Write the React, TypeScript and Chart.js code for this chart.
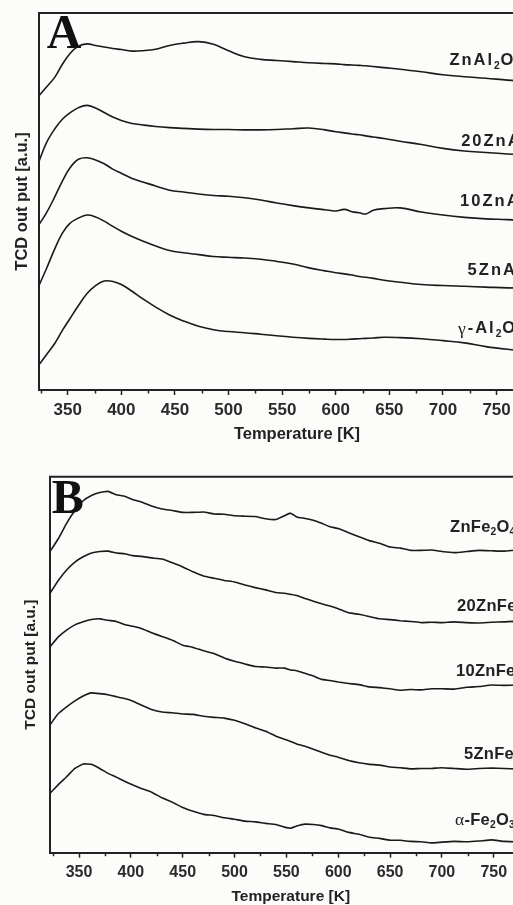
import { useEffect, useRef } from "react";
import { Chart, registerables } from "chart.js";

Chart.register(...registerables);

// ---- Panel A: Zn / γ-Al2O3 series (temperature in K, TCD signal in a.u., stacked) ----
const tempsA = [323, 330, 338, 345, 352, 360, 368, 376, 384, 392, 400, 410, 420, 432, 445, 458, 472, 486, 500, 515, 530, 545, 560, 575, 590, 600, 608, 615, 622, 628, 635, 645, 660, 680, 700, 720, 740, 760, 780, 792];
const znAl2O4 = [78.0, 80.3, 83.0, 86.4, 89.2, 91.2, 91.8, 91.4, 91.0, 90.6, 90.3, 89.9, 90.0, 90.4, 91.4, 92.0, 92.4, 91.7, 90.0, 88.4, 87.7, 87.4, 87.1, 86.8, 86.6, 86.5, 86.3, 86.2, 86.1, 86.0, 85.8, 85.5, 85.1, 84.4, 83.6, 83.1, 82.7, 82.2, 81.8, 81.6];
const zn20Al = [60.5, 65.5, 69.3, 71.8, 73.5, 74.9, 75.5, 74.8, 73.6, 72.4, 71.5, 70.7, 70.3, 69.9, 69.6, 69.4, 69.2, 69.1, 69.1, 69.0, 69.0, 69.1, 69.3, 69.5, 69.0, 68.5, 68.2, 67.9, 67.7, 67.4, 67.1, 66.7, 66.0, 65.1, 64.1, 63.4, 63.0, 62.6, 62.3, 62.1];
const zn10Al = [43.8, 46.9, 51.3, 55.4, 58.9, 61.2, 61.6, 61.0, 60.0, 58.6, 57.5, 56.1, 55.2, 54.1, 53.0, 52.5, 52.0, 51.6, 51.4, 51.0, 50.4, 49.6, 48.9, 48.3, 47.8, 47.5, 47.9, 47.3, 47.0, 46.7, 47.7, 48.1, 48.3, 47.2, 46.4, 45.8, 45.4, 45.2, 44.9, 44.8];
const zn5Al = [27.6, 32.1, 37.5, 41.6, 44.2, 45.6, 46.4, 45.9, 44.8, 43.4, 42.1, 40.7, 39.5, 38.2, 37.0, 36.4, 35.9, 35.4, 35.2, 35.0, 34.7, 34.1, 33.4, 32.4, 31.6, 31.1, 30.8, 30.5, 30.1, 29.9, 29.6, 29.1, 28.6, 28.0, 27.7, 27.5, 27.3, 27.1, 27.0, 26.9];
const gammaAl2O3 = [6.6, 9.3, 12.4, 15.8, 18.9, 22.4, 25.6, 27.7, 28.9, 28.8, 28.0, 26.2, 24.2, 22.0, 19.9, 18.3, 16.9, 16.0, 15.5, 15.2, 14.8, 14.4, 14.0, 13.7, 13.5, 13.4, 13.4, 13.5, 13.6, 13.7, 13.8, 14.0, 13.9, 13.6, 13.1, 12.5, 11.5, 10.8, 10.3, 10.1];

// curve names ("_" marks a subscript digit) and where they sit (K, a.u.)
const namesA = ["ZnAl_2O_4", "20ZnAl_2O_4", "10ZnAl_2O_4", "5ZnAl_2O_4", "γ-Al_2O_3"];
const nameTempsA = [706, 717, 716, 723, 714];
const nameLevelsA = [87.3, 66.0, 49.9, 31.8, 16.2];

// ---- Panel B: Zn / α-Fe2O3 series ----
const tempsB = [322, 330, 338, 346, 354, 362, 370, 378, 386, 394, 402, 410, 420, 430, 440, 450, 460, 470, 480, 490, 500, 510, 520, 530, 540, 548, 554, 560, 568, 576, 584, 592, 600, 610, 620, 630, 640, 650, 660, 670, 680, 690, 700, 712, 724, 736, 748, 760, 772, 784, 796];
const znFe2O4 = [80.1, 83.5, 87.6, 91.0, 93.6, 95.0, 95.8, 96.1, 95.2, 94.8, 93.9, 93.3, 92.2, 91.4, 91.0, 90.5, 90.5, 90.6, 90.1, 90.0, 89.6, 89.5, 89.4, 88.8, 88.6, 89.6, 90.3, 89.3, 88.9, 88.4, 87.6, 86.7, 86.2, 85.1, 84.0, 83.0, 82.3, 81.3, 81.0, 80.4, 80.4, 80.5, 80.1, 79.8, 80.1, 80.4, 80.3, 80.2, 80.5, 80.6, 80.6];
const zn20Fe = [69.0, 72.4, 75.2, 77.3, 78.7, 79.7, 80.1, 80.2, 79.7, 79.5, 79.0, 78.8, 78.4, 78.1, 77.1, 76.0, 74.7, 73.6, 73.0, 72.4, 72.0, 71.2, 70.5, 69.9, 69.2, 69.0, 68.7, 68.4, 67.6, 66.9, 66.2, 65.6, 64.9, 63.8, 63.4, 62.8, 62.2, 62.0, 61.7, 61.5, 61.2, 61.3, 61.2, 61.4, 61.2, 61.1, 61.3, 61.4, 61.6, 61.4, 61.4];
const zn10Fe = [54.8, 57.4, 59.2, 60.6, 61.4, 62.0, 62.2, 61.8, 61.5, 60.7, 60.2, 59.6, 58.5, 57.5, 56.5, 55.2, 54.6, 53.7, 53.0, 51.8, 50.9, 50.2, 49.5, 49.4, 49.1, 49.1, 48.6, 48.4, 47.7, 47.0, 46.1, 45.8, 45.4, 45.0, 44.7, 44.1, 43.9, 43.6, 43.2, 43.4, 43.3, 43.6, 43.6, 43.5, 44.0, 44.2, 44.6, 44.5, 44.6, 44.7, 44.7];
const zn5Fe = [34.0, 37.0, 38.8, 40.4, 41.7, 42.5, 42.3, 42.0, 41.5, 41.0, 40.3, 39.3, 38.1, 37.4, 37.2, 36.9, 36.8, 36.3, 36.0, 35.8, 35.2, 34.3, 33.2, 32.3, 31.0, 30.2, 29.6, 28.9, 28.3, 27.5, 26.7, 25.9, 25.4, 24.5, 23.9, 23.5, 23.3, 22.8, 22.6, 22.3, 22.4, 22.4, 22.6, 22.4, 22.2, 22.4, 22.5, 22.4, 22.3, 22.4, 22.4];
const alphaFe2O3 = [15.8, 18.1, 20.2, 22.4, 23.6, 23.5, 22.4, 21.1, 20.1, 19.0, 18.0, 17.1, 16.1, 14.6, 13.4, 12.0, 11.0, 10.2, 9.9, 9.3, 8.9, 8.4, 8.2, 7.8, 7.5, 6.8, 6.5, 7.1, 7.6, 7.5, 7.2, 6.6, 6.3, 5.4, 4.9, 4.1, 3.8, 3.3, 3.3, 3.0, 2.9, 2.6, 2.8, 3.0, 2.9, 3.1, 3.4, 3.0, 2.9, 3.0, 3.0];

const namesB = ["ZnFe_2O_4", "20ZnFe_2O_4", "10ZnFe_2O_4", "5ZnFe_2O_4", "α-Fe_2O_3"];
const nameTempsB = [707.8, 714.6, 713.6, 721.3, 712.6];
const nameLevelsB = [86.6, 65.6, 48.1, 26.2, 8.7];

// axis ticks
const majorStep = 50;
const firstMinorTick = 325;

const SANS = '"Liberation Sans", Arial, Helvetica, sans-serif';
const SERIF = '"Liberation Serif", "Times New Roman", serif';
const INK = "#1a1a1a";
const AXIS = "#222222";

type PanelSpec = {
  top: number;
  width: number;
  height: number;
  letter: string;
  letterDx: number;
  letterDy: number;
  temps: number[];
  series: number[][];
  names: string[];
  nameTemps: number[];
  nameLevels: number[];
  nameSize: number;
  nameSpacing: number;
  xMin: number;
  xMax: number;
  padTop: number;
  padRight: number;
  yAxisWidth: number;
  xAxisHeight: number;
  tickSize: number;
  tickPad: number;
  titleSize: number;
  xTitlePad: number;
  yTitlePad: number;
  tension: number;
};

const panelA: PanelSpec = {
  top: 0,
  width: 600,
  height: 445,
  letter: "A",
  letterDx: 7.7,
  letterDy: 35.3,
  temps: tempsA,
  series: [znAl2O4, zn20Al, zn10Al, zn5Al, gammaAl2O3],
  names: namesA,
  nameTemps: nameTempsA,
  nameLevels: nameLevelsA,
  nameSize: 16.5,
  nameSpacing: 2,
  xMin: 323.2,
  xMax: 804.5,
  padTop: 13,
  padRight: 45,
  yAxisWidth: 39,
  xAxisHeight: 55,
  tickSize: 17,
  tickPad: 4.8,
  titleSize: 16.5,
  xTitlePad: 1.1,
  yTitlePad: 12.1,
  tension: 0.4,
};

const panelB: PanelSpec = {
  top: 460,
  width: 600,
  height: 450,
  letter: "B",
  letterDx: 1.7,
  letterDy: 36.6,
  temps: tempsB,
  series: [znFe2O4, zn20Fe, zn10Fe, zn5Fe, alphaFe2O3],
  names: namesB,
  nameTemps: nameTempsB,
  nameLevels: nameLevelsB,
  nameSize: 16.5,
  nameSpacing: 0.3,
  xMin: 322,
  xMax: 786.5,
  padTop: 16.7,
  padRight: 68.4,
  yAxisWidth: 50,
  xAxisHeight: 57.3,
  tickSize: 16,
  tickPad: 5.7,
  titleSize: 15.5,
  xTitlePad: 3.7,
  yTitlePad: 21.7,
  tension: 0.1,
};

// Draws a formula such as "ZnAl_2O_4": "_" lowers the next character as a subscript.
function drawFormula(ctx: CanvasRenderingContext2D, text: string, x: number, y: number, size: number, spacing: number) {
  let cx = x;
  for (let i = 0; i < text.length; i++) {
    let ch = text[i];
    let sub = false;
    if (ch === "_" && i + 1 < text.length) {
      sub = true;
      ch = text[++i];
    }
    const greek = /[α-ω]/.test(ch);
    const fs = sub ? size * 0.62 : size;
    ctx.font = greek ? `${fs + 1}px ${SERIF}` : `bold ${fs}px ${SANS}`;
    ctx.fillText(ch, cx, y + (sub ? size * 0.32 : 0));
    cx += ctx.measureText(ch).width + (sub ? spacing * 0.4 : spacing);
  }
}

function buildConfig(spec: PanelSpec): any {
  const frame = {
    id: "topFrame",
    afterDraw(chart: any) {
      const { ctx, chartArea } = chart;
      ctx.save();
      ctx.strokeStyle = AXIS;
      ctx.lineWidth = 2;
      ctx.beginPath();
      ctx.moveTo(chartArea.left - 1, chartArea.top);
      ctx.lineTo(chartArea.right, chartArea.top);
      ctx.stroke();
      ctx.restore();
    },
  };

  const minorTicks = {
    id: "minorTicks",
    afterDraw(chart: any) {
      const { ctx, chartArea } = chart;
      const x = chart.scales.x;
      ctx.save();
      ctx.strokeStyle = AXIS;
      ctx.lineWidth = 1.5;
      for (let t = firstMinorTick; t <= x.max; t += majorStep) {
        if (t < x.min) continue;
        const px = Math.round(x.getPixelForValue(t)) + 0.5;
        ctx.beginPath();
        ctx.moveTo(px, chartArea.bottom);
        ctx.lineTo(px, chartArea.bottom + 3.5);
        ctx.stroke();
      }
      ctx.restore();
    },
  };

  const curveNames = {
    id: "curveNames",
    afterDatasetsDraw(chart: any) {
      const { ctx } = chart;
      const x = chart.scales.x;
      const y = chart.scales.y;
      ctx.save();
      ctx.fillStyle = "#222";
      ctx.textBaseline = "middle";
      ctx.textAlign = "left";
      spec.names.forEach((name, i) => {
        drawFormula(
          ctx,
          name,
          x.getPixelForValue(spec.nameTemps[i]),
          y.getPixelForValue(spec.nameLevels[i]),
          spec.nameSize,
          spec.nameSpacing
        );
      });
      ctx.restore();
    },
  };

  const panelLetter = {
    id: "panelLetter",
    afterDraw(chart: any) {
      const { ctx, chartArea } = chart;
      ctx.save();
      ctx.fillStyle = "#111";
      ctx.font = `bold 48px ${SERIF}`;
      ctx.textBaseline = "alphabetic";
      ctx.textAlign = "left";
      ctx.fillText(spec.letter, chartArea.left + spec.letterDx, chartArea.top + spec.letterDy);
      ctx.restore();
    },
  };

  return {
    type: "line",
    data: {
      datasets: spec.series.map((vals) => ({
        data: spec.temps.map((t, i) => ({ x: t, y: vals[i] })),
        borderColor: INK,
        borderWidth: 1.6,
        pointRadius: 0,
        fill: false,
        tension: spec.tension,
      })),
    },
    options: {
      animation: false,
      responsive: false,
      events: [],
      layout: { padding: { top: spec.padTop, right: spec.padRight, left: 0, bottom: 0 } },
      plugins: { legend: { display: false }, tooltip: { enabled: false } },
      scales: {
        x: {
          type: "linear",
          min: spec.xMin,
          max: spec.xMax,
          afterFit: (s: any) => {
            s.height = spec.xAxisHeight;
          },
          ticks: {
            stepSize: majorStep,
            includeBounds: false,
            autoSkip: false,
            maxRotation: 0,
            color: "#2b2b2b",
            padding: spec.tickPad,
            font: { family: SANS, size: spec.tickSize, weight: "bold" },
          },
          grid: {
            drawOnChartArea: false,
            drawTicks: true,
            tickLength: 5,
            tickColor: AXIS,
            tickWidth: 1.5,
            color: AXIS,
          },
          border: { display: true, color: AXIS, width: 2 },
          title: {
            display: true,
            text: "Temperature [K]",
            color: "#222",
            font: { family: SANS, size: spec.titleSize, weight: "bold" },
            padding: { top: 0, bottom: spec.xTitlePad },
          },
        },
        y: {
          min: 0,
          max: 100,
          afterFit: (s: any) => {
            s.width = spec.yAxisWidth;
          },
          ticks: { display: false },
          grid: { display: false },
          border: { display: true, color: AXIS, width: 2 },
          title: {
            display: true,
            text: "TCD out put [a.u.]",
            color: "#222",
            font: { family: SANS, size: spec.titleSize, weight: "bold" },
            padding: { top: spec.yTitlePad, bottom: 0 },
          },
        },
      },
    },
    plugins: [frame, minorTicks, curveNames, panelLetter],
  };
}

function Panel({ spec }: { spec: PanelSpec }) {
  const ref = useRef<HTMLCanvasElement>(null);
  useEffect(() => {
    if (!ref.current) return;
    const chart = new Chart(ref.current, buildConfig(spec));
    return () => chart.destroy();
  }, [spec]);
  return (
    <canvas
      ref={ref}
      width={spec.width}
      height={spec.height}
      style={{ position: "absolute", left: 0, top: spec.top, width: spec.width, height: spec.height }}
    />
  );
}

export default function App() {
  return (
    <div
      style={{
        position: "fixed",
        left: 0,
        top: 0,
        width: 513,
        height: 905,
        overflow: "hidden",
        background: "#fcfcfa",
      }}
    >
      <Panel spec={panelA} />
      <Panel spec={panelB} />
    </div>
  );
}
